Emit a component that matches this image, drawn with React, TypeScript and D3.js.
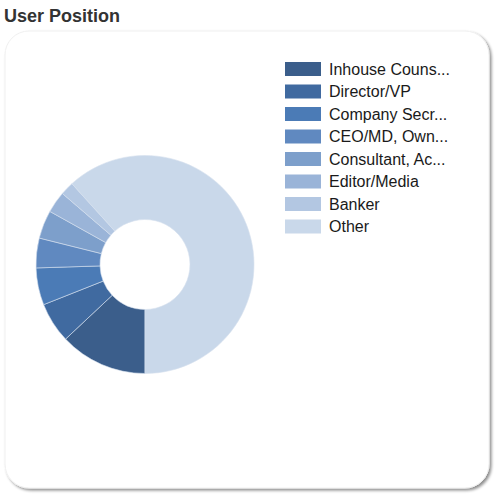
import React from "react";
import * as d3 from "d3";

const categories = [
  "Inhouse Counsel",
  "Director/VP",
  "Company Secretary",
  "CEO/MD, Owner",
  "Consultant, Accountant",
  "Editor/Media",
  "Banker",
  "Other",
];
const legendLabels = [
  "Inhouse Couns...",
  "Director/VP",
  "Company Secr...",
  "CEO/MD, Own...",
  "Consultant, Ac...",
  "Editor/Media",
  "Banker",
  "Other",
];
const values = [13.0, 6.0, 5.5, 4.4, 4.2, 3.2, 2.0, 61.7];
const colors = [
  "#3b5e8b",
  "#406aa0",
  "#4b7bb6",
  "#6089c0",
  "#7d9fcb",
  "#9ab4d8",
  "#b3c7e2",
  "#c9d8ea",
];

export default function App() {
  const W = 495;
  const H = 496;
  const cx = 145;
  const cy = 264.5;
  const outerR = 109;
  const innerR = 45;

  const pie = d3
    .pie<number>()
    .sort(null)
    .value((d) => d)
    .startAngle(Math.PI)
    .endAngle(3 * Math.PI);
  const arcs = pie(values);
  const arc = d3.arc<d3.PieArcDatum<number>>().innerRadius(innerR).outerRadius(outerR);

  const legendY = d3.scaleLinear().domain([0, categories.length - 1]).range([69, 226.5]);

  return (
    <svg
      width={W}
      height={H}
      style={{ position: "absolute", left: 0, top: 0, fontFamily: "'Liberation Sans', Arial, sans-serif" }}
    >
      <defs>
        <filter id="sh" x="-5%" y="-5%" width="110%" height="110%">
          <feGaussianBlur in="SourceAlpha" stdDeviation="1.5" />
          <feOffset dx="2" dy="2" result="b" />
          <feComponentTransfer>
            <feFuncA type="linear" slope="0.45" />
          </feComponentTransfer>
          <feMerge>
            <feMergeNode />
            <feMergeNode in="SourceGraphic" />
          </feMerge>
        </filter>
      </defs>
      <rect width={W} height={H} fill="#ffffff" />
      <text x={4} y={22} fontSize={18} fontWeight="bold" fill="#333333">
        User Position
      </text>
      <rect
        x={5}
        y={31}
        width={484}
        height={457}
        rx={24}
        ry={24}
        fill="#ffffff"
        stroke="#f0f0f0"
        strokeWidth={1}
        filter="url(#sh)"
      />
      <g transform={`translate(${cx},${cy})`}>
        {arcs.map((a, i) => (
          <path key={categories[i]} d={arc(a) || ""} fill={colors[i]} stroke="#d6e0ee" strokeWidth={0.6} />
        ))}
      </g>
      <g>
        {legendLabels.map((l, i) => (
          <g key={l} transform={`translate(285,${legendY(i)})`}>
            <rect x={0} y={-7} width={36} height={14} fill={colors[i]} />
            <text x={44} y={5.5} fontSize={16} fill="#1a1a1a">
              {l}
            </text>
          </g>
        ))}
      </g>
    </svg>
  );
}
